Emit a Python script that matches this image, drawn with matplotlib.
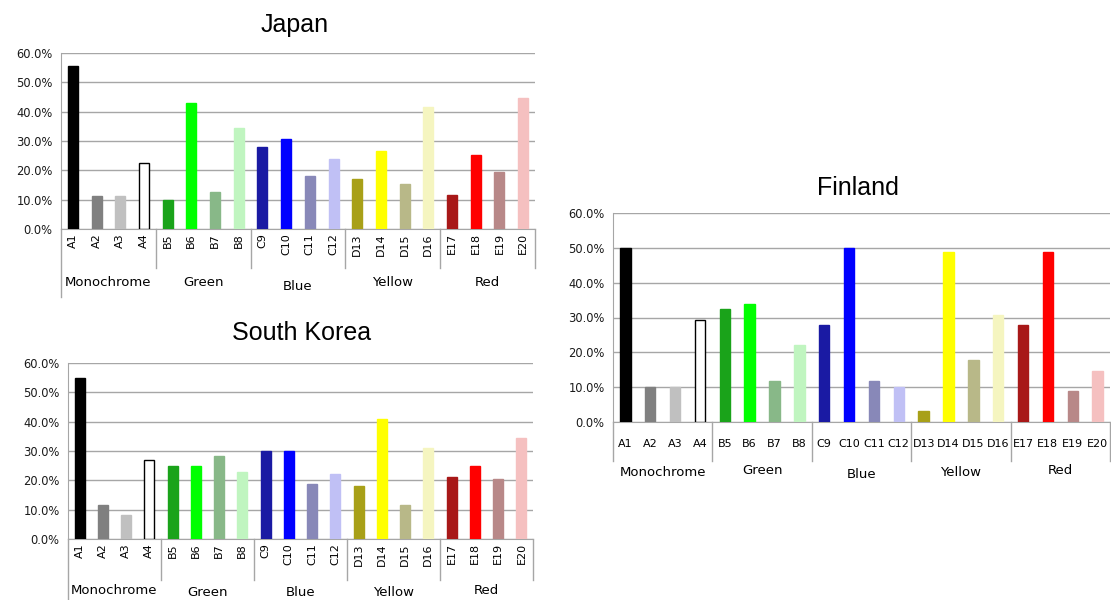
import matplotlib
matplotlib.use("Agg")
import matplotlib.pyplot as plt
from matplotlib.ticker import PercentFormatter

categories = ["A1", "A2", "A3", "A4", "B5", "B6", "B7", "B8", "C9", "C10",
              "C11", "C12", "D13", "D14", "D15", "D16", "E17", "E18", "E19", "E20"]
groups = ["Monochrome", "Green", "Blue", "Yellow", "Red"]
group_sizes = [4, 4, 4, 4, 4]

japan = [55.5, 11.3, 11.3, 22.5, 9.9, 43.1, 12.5, 34.6, 28.0, 30.7,
         18.0, 23.8, 16.9, 26.5, 15.3, 41.6, 11.5, 25.1, 19.5, 44.7]
south_korea = [54.8, 11.6, 8.3, 26.8, 25.0, 25.0, 28.4, 23.0, 30.0, 30.0,
               18.8, 22.2, 18.0, 41.0, 11.7, 31.0, 21.3, 24.8, 20.4, 34.6]
finland = [50.0, 10.0, 10.0, 29.4, 32.4, 33.8, 11.9, 22.0, 27.8, 50.0,
           11.9, 10.1, 3.1, 48.8, 17.8, 30.7, 27.8, 48.8, 8.9, 14.7]

colors = ["#000000", "#808080", "#c0c0c0", "#ffffff",
          "#1aa31a", "#00ff00", "#88b888", "#c0f5c0",
          "#1a1aa3", "#0000ff", "#8888b8", "#c0c0f5",
          "#a8a018", "#ffff00", "#b8b888", "#f5f5c0",
          "#a81818", "#ff0000", "#b88888", "#f5c0c0"]
edges = ["#000000" if c == "#ffffff" else c for c in colors]

W, H = 1111, 600
fig = plt.figure(figsize=(W / 100, H / 100), dpi=100)
GRID = "#a6a6a6"


def make_chart(title, values, left, right, top, bottom, title_xy,
               rot, tick_pad, sep_bottom, axis_bottom, label_y, bar_w):
    ax = fig.add_axes([left / W, (H - bottom) / H, (right - left) / W, (bottom - top) / H])
    x = list(range(len(categories)))
    ax.bar(x, values, width=bar_w, color=colors, edgecolor=edges, linewidth=1, zorder=3)
    ax.set_xlim(-0.5, len(categories) - 0.5)
    ax.set_ylim(0, 60)
    ax.set_yticks([0, 10, 20, 30, 40, 50, 60])
    ax.yaxis.set_major_formatter(PercentFormatter(decimals=1))
    ax.yaxis.grid(True, color=GRID, linewidth=1)
    ax.set_axisbelow(True)
    for s in ["top", "right"]:
        ax.spines[s].set_visible(False)
    for s in ["left", "bottom"]:
        ax.spines[s].set_color(GRID)
    ax.set_xticks(x)
    ax.set_xticklabels(categories, rotation=rot, fontsize=8,
                       va="top", ha="center", color="#000000")
    ax.tick_params(axis="x", length=0, pad=tick_pad)
    ax.tick_params(axis="y", length=0, pad=6, labelsize=8.3, labelcolor="#1a1a1a")
    hpx = bottom - top
    tr = ax.get_xaxis_transform()
    # group separators
    pos = -0.5
    bounds = [pos]
    for n in group_sizes:
        pos += n
        bounds.append(pos)
    for i, b in enumerate(bounds):
        yb = axis_bottom if i == 0 else sep_bottom
        ax.plot([b, b], [0, -(yb - bottom) / hpx], transform=tr, color=GRID,
                linewidth=1, clip_on=False)
    # group labels
    start = 0
    for g, n, ly in zip(groups, group_sizes, label_y):
        c = start + (n - 1) / 2
        ax.text(c, -(ly - bottom) / hpx, g, transform=tr, ha="center",
                va="center", fontsize=9.5, color="#000000")
        start += n
    fig.text(title_xy[0] / W, 1 - title_xy[1] / H, title, ha="center",
             va="center", fontsize=18, family="Liberation Sans")
    return ax


make_chart("Japan", japan, 61, 535, 53, 229, (295, 25), 90, 3,
           268, 297, [282, 282, 286, 282, 282], 0.42)
make_chart("South Korea", south_korea, 68, 533, 363, 539, (302, 333), 90, 3,
           580, 600, [591, 592, 593, 593, 591], 0.42)
make_chart("Finland", finland, 613, 1110, 213, 422, (858, 188), 0, 12,
           461, 461, [473, 470, 474, 473, 470], 0.42)

fig.savefig("out.png", dpi=100, facecolor="white")
